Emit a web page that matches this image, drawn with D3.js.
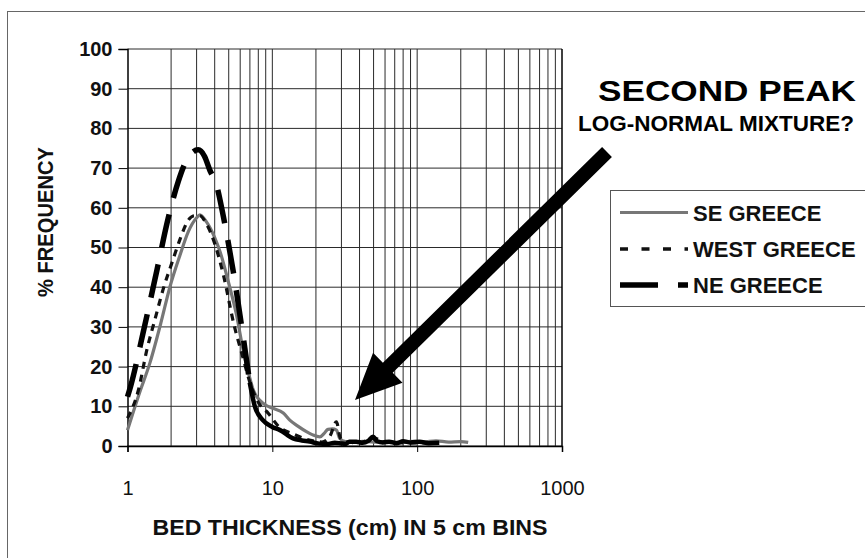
<!DOCTYPE html>
<html><head><meta charset="utf-8">
<script src="https://cdn.jsdelivr.net/npm/d3@7/dist/d3.min.js"></script>
<style>html,body{margin:0;padding:0;background:#fff;}svg{display:block;}</style>
</head><body>
<script>
// ---- data ----
const seX = [1.0,1.2,1.43,1.7,1.96,2.3,2.63,3.0,3.16,3.5,4.0,4.35,5.0,5.66,6.3,7.0,7.4,8.2,9.1,10.1,11.9,13.2,15,17.2,19,21.3,22.8,24.2,26,27.7,29.2,32,36,42,50,60,75,90,110,135,165,200,225];
const seY = [4,13,21,31,40,48,54,57.5,58.2,56.5,52.5,49,41,33,24,17,14,11.5,10.2,9.5,8.3,6.5,5,3.6,2.8,2.3,3.2,4.2,4.3,4,1.9,1.1,0.9,1.2,1.0,1.1,0.9,1.2,1.0,1.3,1.0,1.1,0.9];
const westX = [1.0,1.19,1.36,1.55,1.77,2.02,2.3,2.63,2.9,3.15,3.5,4.0,4.6,5.4,6.3,7.0,8.0,9.4,11,14,18,22,25,27.7,29.5,33,40,50,60,80,100,130];
const westY = [7,14.1,24.2,32,39.7,46,52,56.9,58,58,56,51,43,31,22,16,11,8.2,5,3,1.5,1.0,2.5,6.1,2,1,0.8,2.0,1.0,0.8,0.8,0.6];
const neX = [1.0,1.05,1.29,1.59,1.91,2.24,2.56,3.08,3.4,3.7,4.12,4.58,5.37,6.29,6.98,7.57,8.6,10,11.3,13.9,16,18.1,21,24,27,29.2,32,34,38,42,46,49.5,53,58,64,72,80,90,104,120,142];
const neY = [12.4,15,29,44,57.4,66.6,72,74.6,73,69.5,65.7,58,44,27.5,16,10,6.5,4.8,4,1.9,1.4,1.1,0.6,0.5,0.8,0.7,0.5,1.1,1.1,0.8,1.3,2.3,1.2,0.9,1.1,0.7,1.2,0.9,1.1,0.7,0.8];
const neSolidFrom = 6.98;
const yTicks = [0,10,20,30,40,50,60,70,80,90,100];
const xTicks = [1,10,100,1000];
const legendLabels = ["SE GREECE","WEST GREECE","NE GREECE"];

// ---- layout ----
const W = 865, H = 558;
const svg = d3.select("body").append("svg").attr("width", W).attr("height", H);
svg.append("rect").attr("x",7.5).attr("y",11.5).attr("width",900).attr("height",600)
  .attr("fill","#fff").attr("stroke","#666").attr("stroke-width",1);

const x = d3.scaleLog().domain([1,1000]).range([127.5,562]);
const y = d3.scaleLinear().domain([0,100]).range([446,49]);
const font = "Liberation Sans, Arial, sans-serif";

// grid
const g = svg.append("g");
const minor = [];
for (let d of [1,10,100]) for (let k=2;k<=9;k++) minor.push(d*k);
g.selectAll("line.vx").data(minor.concat([10,100])).enter().append("line")
  .attr("x1",d=>x(d)).attr("x2",d=>x(d)).attr("y1",y(0)).attr("y2",y(100))
  .attr("stroke","#2a2a2a").attr("stroke-width",1);
g.selectAll("line.hy").data(yTicks).enter().append("line")
  .attr("x1",x(1)).attr("x2",x(1000)).attr("y1",d=>y(d)).attr("y2",d=>y(d))
  .attr("stroke","#2a2a2a").attr("stroke-width",1);
// axes
const ya = svg.append("g").attr("transform",`translate(${x(1)},0)`)
  .call(d3.axisLeft(y).tickValues(yTicks).tickSize(9).tickPadding(6));
ya.select(".domain").attr("stroke","#000").attr("stroke-width",1.5);
ya.selectAll("line").attr("stroke","#000");
ya.selectAll("text").attr("font-family",font).attr("font-size",20).attr("font-weight","bold").attr("fill","#111");
const xa = svg.append("g").attr("transform",`translate(0,${y(0)})`)
  .call(d3.axisBottom(x).tickValues(xTicks).tickFormat(d3.format("d")).tickSize(6).tickPadding(29));
xa.select(".domain").attr("stroke","#000").attr("stroke-width",1.5);
xa.selectAll("line").attr("stroke","#000");
xa.selectAll("text").attr("font-family",font).attr("font-size",20).attr("fill","#111");
svg.append("line").attr("x1",x(1000)).attr("x2",x(1000)).attr("y1",y(0)).attr("y2",y(100)).attr("stroke","#000").attr("stroke-width",1.5);

// curves
const line = d3.line().x(d=>x(d[0])).y(d=>y(d[1])).curve(d3.curveMonotoneX);
const se = seX.map((v,i)=>[v,seY[i]]);
const we = westX.map((v,i)=>[v,westY[i]]);
const ne = neX.map((v,i)=>[v,neY[i]]);
svg.append("path").attr("d",line(se)).attr("fill","none").attr("stroke","#777").attr("stroke-width",3.2);
svg.append("path").attr("d",line(we)).attr("fill","none").attr("stroke","#111").attr("stroke-width",3.2).attr("stroke-dasharray","7,6");
svg.append("path").attr("d",line(ne.filter(d=>d[0]<=neSolidFrom))).attr("fill","none").attr("stroke","#000").attr("stroke-width",5.5).attr("stroke-dasharray","34,17");
svg.append("path").attr("d",line(ne.filter(d=>d[0]>=neSolidFrom))).attr("fill","none").attr("stroke","#000").attr("stroke-width",4.5).attr("stroke-linejoin","round");

// arrow
const ax0 = 607, ay0 = 152, ax1 = 355, ay1 = 400;
const ang = Math.atan2(ay1-ay0, ax1-ax0);
const hl = 46, hw = 21, sw = 7;
const ux = Math.cos(ang), uy = Math.sin(ang), px = -uy, py = ux;
const bx = ax1 - ux*hl, by = ay1 - uy*hl;
const pts = [
  [ax0+px*sw, ay0+py*sw],[bx+px*sw, by+py*sw],[bx+px*hw, by+py*hw],[ax1,ay1],
  [bx-px*hw, by-py*hw],[bx-px*sw, by-py*sw],[ax0-px*sw, ay0-py*sw]];
svg.append("polygon").attr("points",pts.map(p=>p.join(",")).join(" ")).attr("fill","#000");

// annotation text
svg.append("text").attr("x",727).attr("y",101).attr("text-anchor","middle").attr("font-family",font)
  .attr("font-weight","bold").attr("font-size",30).attr("textLength",258).attr("lengthAdjust","spacingAndGlyphs").text("SECOND PEAK");
svg.append("text").attr("x",716).attr("y",131).attr("text-anchor","middle").attr("font-family",font)
  .attr("font-weight","bold").attr("font-size",22.5).text("LOG-NORMAL MIXTURE?");

// legend
const lg = svg.append("g");
lg.append("rect").attr("x",610.5).attr("y",190.5).attr("width",300).attr("height",116).attr("fill","#fff").attr("stroke","#555").attr("stroke-width",1);
const ly = [212.5,249,285];
const lstyles = [
  {c:"#777",w:3.2,dash:null},
  {c:"#111",w:3.5,dash:"8,13.5"},
  {c:"#000",w:5.7,dash:"38,20"}];
legendLabels.forEach((t,i)=>{
  lg.append("line").attr("x1",620).attr("x2",688).attr("y1",ly[i]).attr("y2",ly[i])
    .attr("stroke",lstyles[i].c).attr("stroke-width",lstyles[i].w).attr("stroke-dasharray",lstyles[i].dash);
  lg.append("text").attr("x",693).attr("y",ly[i]+8).attr("font-family",font).attr("font-weight","bold")
    .attr("font-size",22).attr("fill","#111").text(t);
});

// axis titles
svg.append("text").attr("transform","translate(53,222) rotate(-90)").attr("text-anchor","middle")
  .attr("font-family",font).attr("font-weight","bold").attr("font-size",22).attr("textLength",150).attr("lengthAdjust","spacingAndGlyphs").attr("fill","#111").text("% FREQUENCY");
svg.append("text").attr("x",350).attr("y",535).attr("text-anchor","middle")
  .attr("font-family",font).attr("font-weight","bold").attr("font-size",22).attr("textLength",395).attr("lengthAdjust","spacingAndGlyphs").attr("fill","#111").text("BED THICKNESS (cm) IN 5 cm BINS");
</script>
</body></html>
